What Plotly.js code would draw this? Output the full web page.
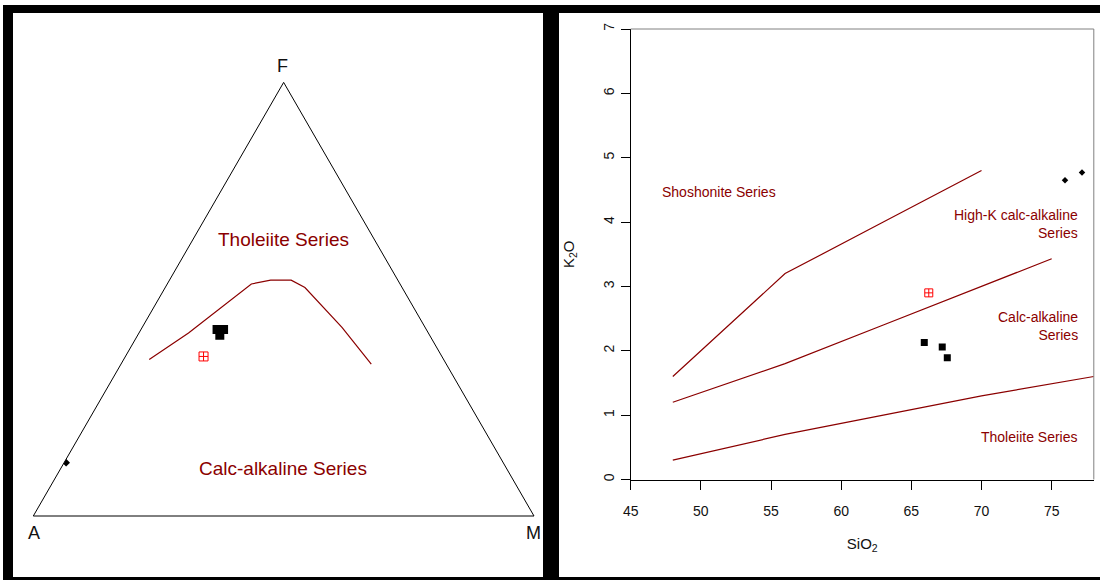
<!DOCTYPE html>
<html>
<head>
<meta charset="utf-8">
<script src="https://cdn.plot.ly/plotly-3.0.1.min.js"></script>
<style>html,body{margin:0;padding:0;background:#fff}#chart{width:1100px;height:580px}</style>
</head>
<body>
<div id="chart"></div>
<script>
// ---------- AFM ternary diagram (percent) ----------
const afmBoundaryA = [58.8, 47.9, 29.7, 25.4, 21.3, 19.4, 16.6, 15.0];
const afmBoundaryF = [36.1, 42.2, 53.5, 54.4, 54.4, 52.7, 43.5, 35.0];
const afmBoundaryM = [5.1, 9.9, 16.8, 20.2, 24.3, 27.9, 39.9, 50.0];

const afmDiamondA = [87.3];
const afmDiamondF = [12.3];
const afmDiamondM = [0.4];

const afmSquareA = [41.8, 40.5, 41.9];
const afmSquareF = [43.0, 43.0, 41.7];
const afmSquareM = [15.2, 16.5, 16.4];

const afmCrossA = [47.6];
const afmCrossF = [36.8];
const afmCrossM = [15.6];

const afmVertexLabels = ['F', 'A', 'M'];

// ---------- K2O vs SiO2 diagram ----------
const thoBoundarySiO2 = [48, 52, 56, 63, 70, 78];
const thoBoundaryK2O  = [0.3, 0.5, 0.7, 1.0, 1.3, 1.6];
const caBoundarySiO2  = [48, 52, 56, 63, 70, 75];
const caBoundaryK2O   = [1.2, 1.5, 1.8, 2.4, 3.0, 3.43];
const shoBoundarySiO2 = [48, 52, 56, 63, 70];
const shoBoundaryK2O  = [1.6, 2.4, 3.2, 4.0, 4.8];

const diamondSiO2 = [75.95, 77.16];
const diamondK2O  = [4.65, 4.77];
const squareSiO2  = [65.92, 67.2, 67.56];
const squareK2O   = [2.13, 2.06, 1.89];
const crossSiO2   = [66.24];
const crossK2O    = [2.90];

const xTicks = [45, 50, 55, 60, 65, 70, 75];
const yTicks = [0, 1, 2, 3, 4, 5, 6, 7];

// ---------- styling ----------
const W = 1100, H = 580;
const px = v => v / W;
const py = v => 1 - v / H;
const RED = '#8B0000';
const FONT = 'Liberation Sans, Arial, Helvetica, sans-serif';

const tern = (a, f, m, extra) => Object.assign({
  type: 'scatterternary', subplot: 'ternary', a: f, b: a, c: m, hoverinfo: 'skip'
}, extra);

const traces = [
  tern(afmBoundaryA, afmBoundaryF, afmBoundaryM, {mode: 'lines', line: {color: RED, width: 1.2}}),
  tern(afmDiamondA, afmDiamondF, afmDiamondM, {mode: 'markers', marker: {symbol: 'diamond', size: 6, color: '#000'}}),
  tern(afmSquareA, afmSquareF, afmSquareM, {mode: 'markers', marker: {symbol: 'square', size: 9, color: '#000'}}),
  tern(afmCrossA, afmCrossF, afmCrossM, {mode: 'markers', marker: {symbol: 'square-cross-open', size: 9, color: '#ff0000', line: {width: 1, color: '#ff0000'}}}),

  {type: 'scatter', x: thoBoundarySiO2, y: thoBoundaryK2O, mode: 'lines', line: {color: RED, width: 1.2}, hoverinfo: 'skip'},
  {type: 'scatter', x: caBoundarySiO2, y: caBoundaryK2O, mode: 'lines', line: {color: RED, width: 1.2}, hoverinfo: 'skip'},
  {type: 'scatter', x: shoBoundarySiO2, y: shoBoundaryK2O, mode: 'lines', line: {color: RED, width: 1.2}, hoverinfo: 'skip'},
  {type: 'scatter', x: diamondSiO2, y: diamondK2O, mode: 'markers', marker: {symbol: 'diamond', size: 5, color: '#000'}, hoverinfo: 'skip'},
  {type: 'scatter', x: squareSiO2, y: squareK2O, mode: 'markers', marker: {symbol: 'square', size: 7, color: '#000'}, hoverinfo: 'skip'},
  {type: 'scatter', x: crossSiO2, y: crossK2O, mode: 'markers', marker: {symbol: 'square-cross-open', size: 8, color: '#ff0000', line: {width: 1, color: '#ff0000'}}, hoverinfo: 'skip'}
];

const ternAxis = {
  title: {text: ''}, showticklabels: false, ticks: '', showgrid: false,
  showline: true, linecolor: '#000', linewidth: 1
};

const band = (x0, y0, x1, y1) => ({
  type: 'rect', xref: 'paper', yref: 'paper', layer: 'above',
  x0: px(x0), x1: px(x1), y0: py(y1), y1: py(y0),
  fillcolor: '#000', line: {width: 0}
});

const paperText = (text, x, y, size, color) => ({
  text, xref: 'paper', yref: 'paper', x: px(x), y: py(y),
  xanchor: 'center', yanchor: 'middle', showarrow: false,
  font: {size, color, family: FONT}
});

const dataText = (text, x, y, xanchor) => ({
  text, xref: 'x', yref: 'y', x, y, xanchor, yanchor: 'middle', align: xanchor,
  showarrow: false, font: {size: 14, color: RED, family: FONT}
});

const layout = {
  width: W, height: H,
  margin: {l: 0, r: 0, t: 0, b: 0},
  paper_bgcolor: '#fff', plot_bgcolor: '#fff',
  showlegend: false,
  font: {family: FONT, color: '#111', size: 14},
  ternary: {
    domain: {x: [px(33.3), px(534)], y: [py(529.2), py(69.2)]},
    sum: 100, bgcolor: '#fff',
    aaxis: ternAxis, baxis: ternAxis, caxis: ternAxis
  },
  xaxis: {
    domain: [px(630.7), px(1093.8)], range: [45, 78], anchor: 'y',
    tickvals: xTicks, ticktext: xTicks.map(String),
    ticks: 'outside', ticklen: 9, tickwidth: 1, tickcolor: '#000',
    showline: true, linecolor: '#000', linewidth: 1,
    showgrid: false, zeroline: false,
    tickfont: {size: 14, color: '#111'}, ticklabelstandoff: 10,
    title: {text: 'SiO<sub>2</sub>', font: {size: 15, color: '#111'}, standoff: 20}
  },
  yaxis: {
    domain: [py(479.5), py(29)], range: [0, 7], anchor: 'x',
    tickvals: yTicks, ticktext: yTicks.map(String), tickangle: -90,
    ticks: 'outside', ticklen: 9, tickwidth: 1, tickcolor: '#000',
    showline: true, linecolor: '#000', linewidth: 1,
    showgrid: false, zeroline: false,
    tickfont: {size: 14, color: '#111'}, ticklabelstandoff: 1,
    title: {text: 'K<sub>2</sub>O', font: {size: 15, color: '#111'}, standoff: 22}
  },
  shapes: [
    {type: 'line', xref: 'x domain', yref: 'y domain', x0: 0, x1: 1, y0: 1, y1: 1, line: {color: '#808080', width: 1}},
    {type: 'line', xref: 'x domain', yref: 'y domain', x0: 1, x1: 1, y0: 0, y1: 1, line: {color: '#808080', width: 1}},
    band(3, 5, 1100, 13),
    band(3, 5, 13, 580),
    band(3, 577, 1100, 580),
    band(543, 5, 559, 580)
  ],
  annotations: [
    paperText(afmVertexLabels[0], 282.7, 66, 18, '#111'),
    paperText(afmVertexLabels[1], 34, 533.3, 18, '#111'),
    paperText(afmVertexLabels[2], 533.3, 533.3, 18, '#111'),
    paperText('Tholeiite Series', 283, 239, 19, RED),
    paperText('Calc-alkaline Series', 283, 468.5, 19, RED),
    dataText('Shoshonite Series', 47.06, 4.46, 'left'),
    dataText('High-K calc-alkaline<br>Series', 77.0, 3.975, 'right'),
    dataText('Calc-alkaline<br>Series', 77.0, 2.38, 'right'),
    dataText('Tholeiite Series', 77.0, 0.665, 'right')
  ]
};

Plotly.newPlot('chart', traces, layout, {staticPlot: true, displayModeBar: false});
</script>
</body>
</html>
